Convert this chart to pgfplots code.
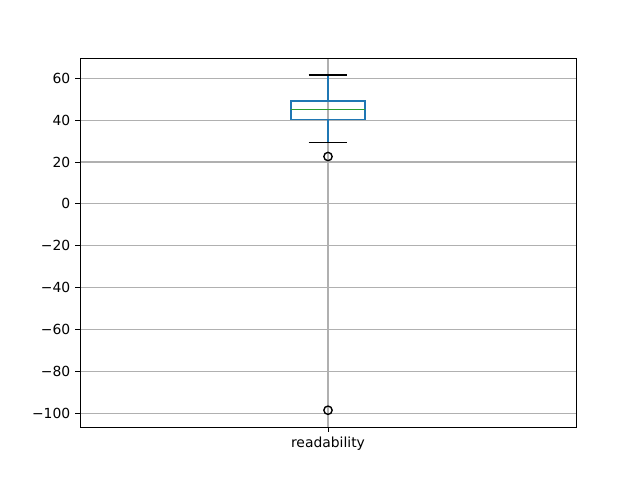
\documentclass[border=0pt]{standalone}
\usepackage{fontspec}
\setmainfont{DejaVu Sans}
\usepackage{pgfplots}
\pgfplotsset{compat=1.18}
\usepgfplotslibrary{statistics}
\definecolor{c0}{HTML}{1F77B4}
\definecolor{c2}{HTML}{2CA02C}
\definecolor{gridc}{HTML}{B0B0B0}
\begin{document}
\begin{tikzpicture}
\begin{axis}[
  scale only axis,
  width=357.12pt, height=265.68pt,
  xmin=0.5, xmax=1.5,
  ymin=-106.4, ymax=69.6,
  xtick={1}, xticklabels={readability},
  ytick={-100,-80,-60,-40,-20,0,20,40,60},
  yticklabels={−100,−80,−60,−40,−20,0,20,40,60},
  grid=major,
  major grid style={gridc, line width=0.8pt},
  axis line style={line width=0.7pt},
  tick style={black, line width=0.7pt},
  tick align=outside,
  major tick length=3.5pt,
  xtick pos=bottom, ytick pos=left,
  tick label style={font=\fontsize{10}{12}\selectfont},
  /pgf/number format/assume math mode=true,
  boxplot/draw direction=y,
]
\addplot[
  black, line width=1.1pt,
  mark=o, mark size=3pt, mark options={black, line width=1pt},
  boxplot/draw/lower whisker/.code={
    \draw[c0, line width=1.1pt] (boxplot box cs:\pgfplotsboxplotvalue{lower whisker},0.5) -- (boxplot box cs:\pgfplotsboxplotvalue{lower quartile},0.5);
    \draw[black, line width=1.1pt] (boxplot whisker cs:\pgfplotsboxplotvalue{lower whisker},0) -- (boxplot whisker cs:\pgfplotsboxplotvalue{lower whisker},1);
  },
  boxplot/draw/upper whisker/.code={
    \draw[c0, line width=1.1pt] (boxplot box cs:\pgfplotsboxplotvalue{upper whisker},0.5) -- (boxplot box cs:\pgfplotsboxplotvalue{upper quartile},0.5);
    \draw[black, line width=1.1pt] (boxplot whisker cs:\pgfplotsboxplotvalue{upper whisker},0) -- (boxplot whisker cs:\pgfplotsboxplotvalue{upper whisker},1);
  },
  boxplot/draw/median/.code={},
  boxplot/draw/box/.code={
    \draw[c0, line width=1.1pt] (boxplot box cs:\pgfplotsboxplotvalue{lower quartile},0) rectangle (boxplot box cs:\pgfplotsboxplotvalue{upper quartile},1);
  },
  boxplot prepared={
    lower whisker=29.4, lower quartile=40.2, median=45.0,
    upper quartile=49.2, upper whisker=61.6,
    draw position=1, box extend=0.15, whisker extend=0.078
  }
] table[row sep=\\, y index=0] {y\\ 22.6\\ -98.4\\};
\addplot[c2, line width=1.1pt, no marks] coordinates {(0.925,45.0) (1.075,45.0)};
\end{axis}
\pgfresetboundingbox
\path ([shift={(-57.6pt,-38.16pt)}]current axis.south west) rectangle ([shift={(46.08pt,41.76pt)}]current axis.north east);
\end{tikzpicture}
\end{document}
